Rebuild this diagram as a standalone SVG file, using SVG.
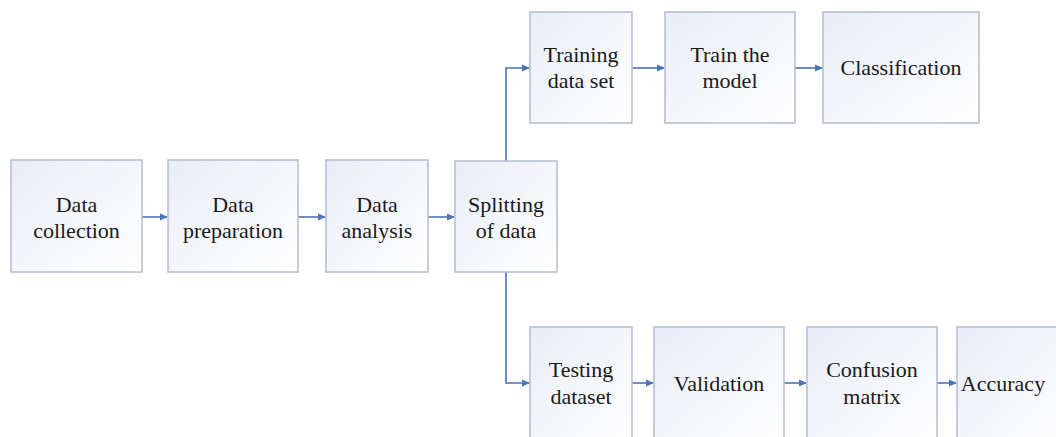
<svg xmlns="http://www.w3.org/2000/svg" width="1056" height="437" viewBox="0 0 1056 437">
<style>
.box{fill:url(#g);stroke:#b3bccf;stroke-width:1.5}
.t{font-size:22px;fill:#1a1a1a;text-anchor:middle}
.c{fill:none;stroke:#4a74b8;stroke-width:1.6;marker-end:url(#a)}
</style>
<defs>
<linearGradient id="g" x1="0" y1="0" x2="1" y2="1">
<stop offset="0" stop-color="#e9edf6"/>
<stop offset="1" stop-color="#ffffff"/>
</linearGradient>
<marker id="a" markerWidth="8" markerHeight="8" refX="7" refY="4" orient="auto" markerUnits="userSpaceOnUse">
<path d="M0,0.5 L8,4 L0,7.5 Z" fill="#4a74b8"/>
</marker>
</defs>
<rect width="1056" height="437" fill="#ffffff"/>
<g id="connectors">
<path class="c" d="M142,217 H167"/>
<path class="c" d="M298,217 H325"/>
<path class="c" d="M428,217 H454"/>
<path class="c" d="M506,161 V68 H529"/>
<path class="c" d="M506,272 V383 H529"/>
<path class="c" d="M632,68 H664"/>
<path class="c" d="M795,68 H822"/>
<path class="c" d="M632,383 H653"/>
<path class="c" d="M784,383 H806"/>
<path class="c" d="M937,383 H956"/>
</g>
<g font-family="Liberation Serif, Tinos, Times New Roman, DejaVu Serif, serif">
<g id="data-collection"><rect class="box" x="11" y="160" width="131" height="112"/><text class="t" x="76.5" y="212">Data</text><text class="t" x="76.5" y="238">collection</text></g>
<g id="data-preparation"><rect class="box" x="168" y="160" width="130" height="112"/><text class="t" x="233" y="212">Data</text><text class="t" x="233" y="238">preparation</text></g>
<g id="data-analysis"><rect class="box" x="326" y="160" width="102" height="112"/><text class="t" x="377" y="212">Data</text><text class="t" x="377" y="238">analysis</text></g>
<g id="splitting"><rect class="box" x="455" y="161" width="102" height="111"/><text class="t" x="506" y="212">Splitting</text><text class="t" x="506" y="238">of data</text></g>
<g id="training"><rect class="box" x="530" y="12" width="102" height="111"/><text class="t" x="581" y="62">Training</text><text class="t" x="581" y="88">data set</text></g>
<g id="train-model"><rect class="box" x="665" y="12" width="130" height="111"/><text class="t" x="730" y="62">Train the</text><text class="t" x="730" y="88">model</text></g>
<g id="classification"><rect class="box" x="823" y="12" width="156" height="111"/><text class="t" x="901" y="75">Classification</text></g>
<g id="testing"><rect class="box" x="530" y="327" width="102" height="120"/><text class="t" x="581" y="377">Testing</text><text class="t" x="581" y="404">dataset</text></g>
<g id="validation"><rect class="box" x="654" y="327" width="130" height="120"/><text class="t" x="719" y="391">Validation</text></g>
<g id="confusion"><rect class="box" x="807" y="327" width="130" height="120"/><text class="t" x="872" y="377">Confusion</text><text class="t" x="872" y="404">matrix</text></g>
<g id="accuracy"><rect class="box" x="957" y="327" width="110" height="120"/><text class="t" x="1003" y="391">Accuracy</text></g>
</g>
</svg>
